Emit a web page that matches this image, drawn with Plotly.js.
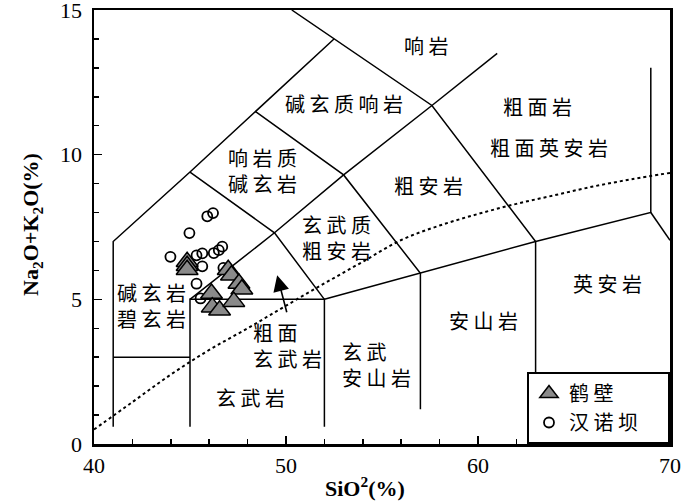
<!DOCTYPE html>
<html>
<head>
<meta charset="utf-8">
<script src="https://cdn.plot.ly/plotly-3.0.1.min.js"></script>
<style>
  body { margin: 0; background: #fff; }
  #chart { width: 700px; height: 502px; }
</style>
</head>
<body>
<div id="chart"></div>
<script>
// 鹤壁 samples (SiO2, Na2O+K2O)
var hebiSiO2 = [44.85, 44.85, 44.85, 46.99, 47.16, 47.55, 47.7, 46.12, 46.16, 46.54, 47.28];
var hebiAlk  = [6.3, 6.16, 6.02, 6.02, 5.83, 5.55, 5.35, 5.2, 4.73, 4.62, 4.92];

// 汉诺坝 samples
var hanSiO2 = [45.9, 46.2, 44.97, 43.98, 45.34, 45.64, 46.24, 46.5, 46.68, 45.64, 46.74, 45.34, 45.55];
var hanAlk  = [7.87, 7.98, 7.29, 6.47, 6.52, 6.59, 6.6, 6.7, 6.82, 6.14, 6.09, 5.54, 5.03];

// TAS field boundaries, segments split by null
var boundX = [41, 41, 45, 48.4, 52.5, null,
              50.3, 52.5, 57.6, 63, 63, null,
              57.6, 61, null,
              41, 45, null,
              45, 45, 52, 52, null,
              45, 49.4, 52, null,
              45, 49.4, 53, 57.6, null,
              48.4, 53, 57, 57, null,
              52, 57, 63, 69, 69, null,
              69, 70];
var boundY = [0.6, 7, 9.4, 11.5, 14, null,
              15, 14, 11.7, 7, 0.6, null,
              11.7, 13.5, null,
              3, 3, null,
              0.6, 5, 5, 0.6, null,
              9.4, 7.3, 5, null,
              5, 7.3, 9.3, 11.7, null,
              11.5, 9.3, 5.9, 1.2, null,
              5, 5.9, 7, 8, 13, null,
              8, 7.04];

// alkaline / subalkaline divide
var divX = [40, 42, 44, 46, 48, 50, 52, 54, 56, 58, 60, 62, 64, 66, 68, 70];
var divY = [0.5, 1.45, 2.4, 3.25, 4.0, 4.78, 5.55, 6.3, 7.05, 7.55, 7.95, 8.3, 8.6, 8.9, 9.15, 9.37];

// rock names and where they sit
var rockNames = ['响岩', '碱玄质响岩', '粗面岩', '粗面英安岩', '粗安岩', '响岩质<br>碱玄岩',
                 '玄武质<br>粗安岩', '碱玄岩<br>碧玄岩', '粗面<br>玄武岩', '玄武<br>安山岩',
                 '玄武岩', '安山岩', '英安岩'];
var rockX = [57.31, 53.0, 63.08, 63.69, 57.4, 48.76, 52.63, 43.0, 50.08, 54.71, 48.15, 60.29, 66.77];
var rockY = [13.76, 11.77, 11.65, 10.24, 8.94, 9.44, 7.15, 4.79, 3.41, 2.75, 1.62, 4.27, 5.54];

var cjk = '"Noto Sans CJK SC", sans-serif';
var serif = '"Liberation Serif", "Times New Roman", serif';

function spaced(s) {
    return s.split('<br>').map(function (line) {
        return line.split('').join(' ');
    }).join('<br>');
}

// blank tail so the legend box is as wide as in the figure
var legendPad = '<span style="color:rgba(0,0,0,0)"> 坝</span>';

var traces = [
    {
        x: boundX, y: boundY, mode: 'lines', type: 'scatter',
        line: { color: '#000', width: 1.5 },
        hoverinfo: 'skip', showlegend: false
    },
    {
        x: divX, y: divY, mode: 'lines', type: 'scatter',
        line: { color: '#000', width: 2, dash: 'dot', shape: 'spline' },
        hoverinfo: 'skip', showlegend: false
    },
    {
        x: hanSiO2, y: hanAlk, mode: 'markers', type: 'scatter',
        name: spaced('汉诺坝') + legendPad,
        marker: { symbol: 'circle-open', size: 10, color: '#000', line: { width: 1.8, color: '#000' } }
    },
    {
        x: hebiSiO2, y: hebiAlk, mode: 'markers', type: 'scatter',
        name: spaced('鹤壁'),
        marker: { symbol: 'triangle-up', size: 19, color: '#8a8a8a', line: { width: 1.5, color: '#000' } }
    }
];

var annotations = rockNames.map(function (name, i) {
    var twoLeft = (name === '粗面<br>玄武岩' || name === '玄武<br>安山岩');
    return {
        x: rockX[i], y: rockY[i], xref: 'x', yref: 'y',
        text: spaced(name), showarrow: false,
        align: twoLeft ? 'left' : 'center',
        font: { family: cjk, size: 20, color: '#000' }
    };
});

annotations.push({
    x: 49.54, y: 5.83, ax: 50.06, ay: 4.5, axref: 'x', ayref: 'y',
    xref: 'x', yref: 'y', text: '', showarrow: true,
    arrowhead: 2, arrowsize: 2, arrowwidth: 1.6, arrowcolor: '#000'
});

annotations.push({
    x: 0.471, y: -0.1, xref: 'paper', yref: 'paper',
    xanchor: 'center', yanchor: 'middle',
    text: '<b>SiO<sup>2</sup>(%)</b>', showarrow: false,
    font: { family: serif, size: 22, color: '#000' }
});

annotations.push({
    x: -0.1067, y: 0.506, xref: 'paper', yref: 'paper',
    xanchor: 'center', yanchor: 'middle', textangle: -90,
    text: '<b>Na<sub>2</sub>O+K<sub>2</sub>O(%)</b>', showarrow: false,
    font: { family: serif, size: 22, color: '#000' }
});

var layout = {
    width: 700, height: 502,
    margin: { l: 94, r: 30, t: 10, b: 58 },
    paper_bgcolor: '#fff', plot_bgcolor: '#fff',
    showlegend: true,
    legend: {
        x: 1, y: 0, xanchor: 'right', yanchor: 'bottom',
        bgcolor: '#fff', bordercolor: '#000', borderwidth: 2,
        traceorder: 'reversed', itemwidth: 30,
        font: { family: cjk, size: 20, color: '#000' },
        tracegroupgap: 0
    },
    xaxis: {
        range: [40, 70], dtick: 10, tick0: 40,
        ticks: 'inside', ticklen: 8, tickwidth: 1.5, tickcolor: '#000',
        minor: { dtick: 2, ticks: 'inside', ticklen: 5, tickwidth: 1.5, tickcolor: '#000' },
        showline: true, linecolor: '#000', linewidth: 2.5, mirror: true,
        showgrid: false, zeroline: false, ticklabeloverflow: 'allow',
        tickfont: { family: serif, size: 22, color: '#000' }
    },
    yaxis: {
        range: [0, 15], dtick: 5, tick0: 0,
        ticks: 'inside', ticklen: 8, tickwidth: 1.5, tickcolor: '#000',
        minor: { dtick: 1, ticks: 'inside', ticklen: 5, tickwidth: 1.5, tickcolor: '#000' },
        showline: true, linecolor: '#000', linewidth: 2.5, mirror: true,
        showgrid: false, zeroline: false, ticklabeloverflow: 'allow',
        ticklabelstandoff: 5,
        tickfont: { family: serif, size: 22, color: '#000' }
    },
    annotations: annotations
};

Plotly.newPlot('chart', traces, layout, { staticPlot: true });
</script>
</body>
</html>
